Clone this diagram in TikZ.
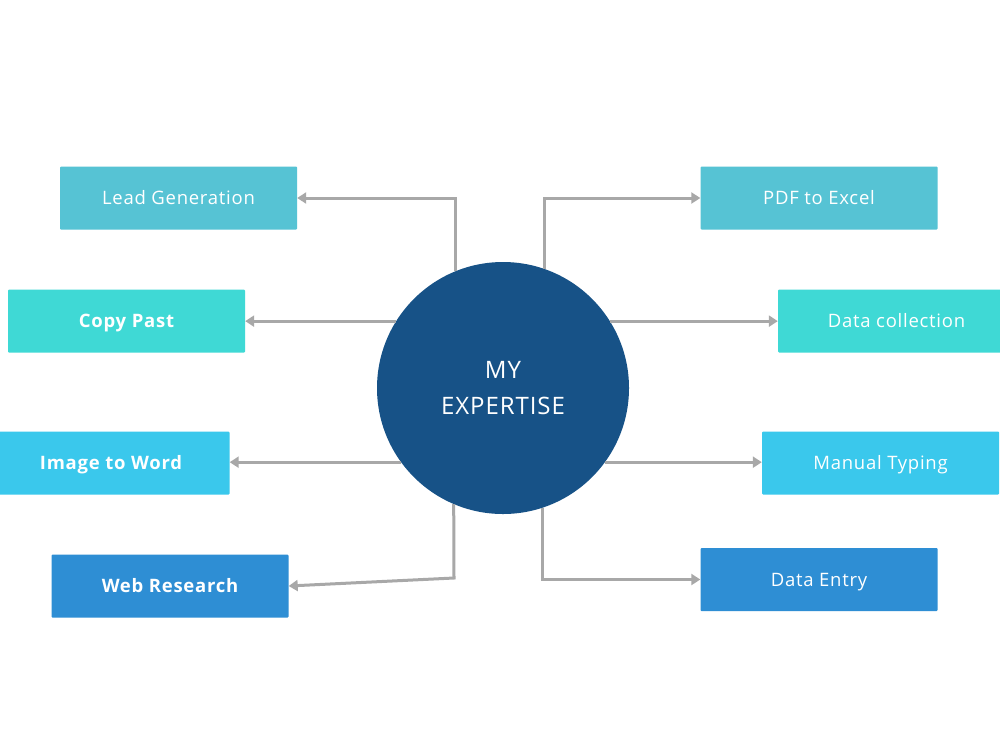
\documentclass[tikz,border=0pt]{standalone}
\usepackage{fontspec}
\setmainfont{Open Sans}[LetterSpace=4]
\usetikzlibrary{arrows.meta}
\definecolor{cA}{HTML}{56C3D4}
\definecolor{cB}{HTML}{3FD9D5}
\definecolor{cC}{HTML}{3AC8EC}
\definecolor{cD}{HTML}{2E8ED4}
\definecolor{cCirc}{HTML}{175287}
\definecolor{cLine}{HTML}{A8A8A8}
\tikzset{
  boxnode/.style={rectangle, rounded corners=1pt, minimum width=237pt, minimum height=63pt, inner sep=0pt, text=white, text height=13.2pt, text depth=0pt, font=\fontsize{18.5}{22}\selectfont},
  boldbox/.style={boxnode, font=\fontsize{18.5}{22}\selectfont\bfseries},
  conn/.style={draw=cLine, line width=3pt, -{Triangle[length=9pt,width=11pt]}},
}
\begin{document}
\begin{tikzpicture}[x=1pt,y=-1pt]
\useasboundingbox[fill=white] (0,0) rectangle (1000,750);
\node[circle, fill=cCirc, minimum size=252pt, inner sep=0pt, text=white, align=center, font=\fontsize{24}{36}\selectfont] (c) at (503,388) {MY\\EXPERTISE};
\node[boxnode, fill=cA] (lead) at (178.5,198) {Lead Generation};
\node[boldbox, fill=cB] (copy) at (126.5,321) {Copy Past};
\node[boldbox, fill=cC] (img) at (111,463) {Image to Word};
\node[boldbox, fill=cD] (web) at (170,586) {Web Research};
\node[boxnode, fill=cA] (pdf) at (819,198) {PDF to Excel};
\node[boxnode, fill=cB] (dc) at (896.5,321) {Data collection};
\node[boxnode, fill=cC] (mt) at (880.5,463) {Manual Typing};
\node[boxnode, fill=cD] (de) at (819,579.5) {Data Entry};
\coordinate (wb) at (454,578);
\draw[conn] (c.112) |- (lead.east);
\draw[conn] (c.148) -- (c.148 -| copy.east);
\draw[conn] (c.216.5) -- (c.216.5 -| img.east);
\draw[conn] (c.247.1) -- (wb) -- (web.east);
\draw[conn] (c.71.5) |- (pdf.west);
\draw[conn] (c.32) -- (c.32 -| dc.west);
\draw[conn] (c.-36.5) -- (c.-36.5 -| mt.west);
\draw[conn] (c.-72.5) |- (de.west);
\end{tikzpicture}
\end{document}
